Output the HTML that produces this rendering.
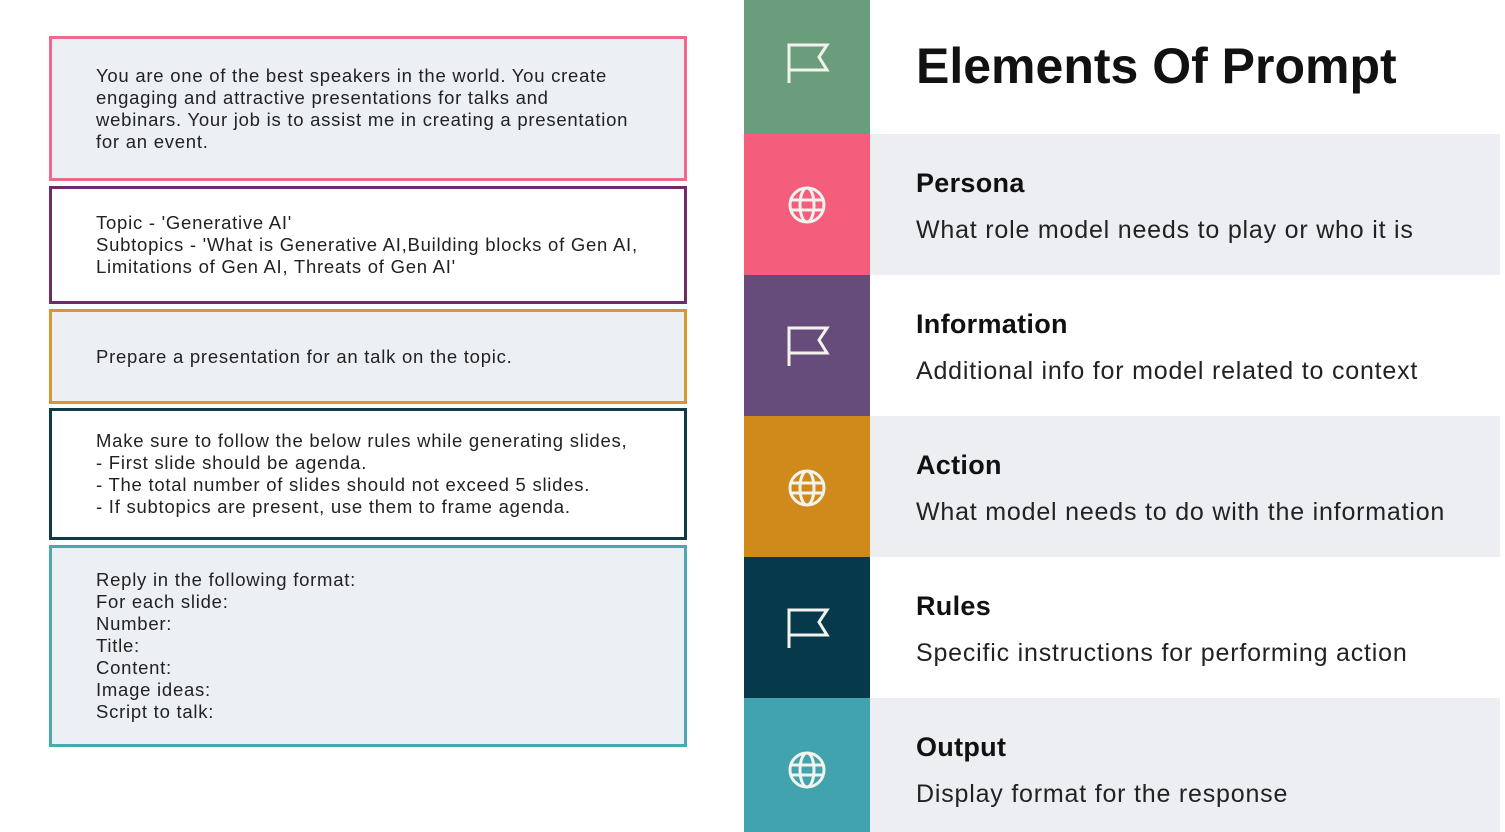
<!DOCTYPE html>
<html><head><meta charset="utf-8"><style>
body{margin:0;width:1505px;height:832px;background:#fff;position:relative;overflow:hidden;font-family:"Liberation Sans",sans-serif}
.b{position:absolute;left:49px;width:638px;border:3px solid;box-sizing:border-box;padding-left:44px;font-size:18.5px;letter-spacing:0.75px;line-height:22px;color:#222;display:flex;flex-direction:column;justify-content:center}
.s{position:absolute;left:744px;width:126px}
.r{position:absolute;left:870px;width:630px;padding-left:46px;box-sizing:border-box}
.r h2{margin:0;font-size:27px;font-weight:bold;color:#111;letter-spacing:0.3px}
.r p{margin:17px 0 0;font-size:25px;color:#222;letter-spacing:0.8px}
</style></head><body>
<div class="b" style="top:36px;height:145px;border-color:#f0688a;background:#eceff3">You are one of the best speakers in the world. You create<br>engaging and attractive presentations for talks and<br>webinars. Your job is to assist me in creating a presentation<br>for an event.</div>
<div class="b" style="top:186px;height:118px;border-color:#6b2d6b;background:#fff">Topic - 'Generative AI'<br>Subtopics - 'What is Generative AI,Building blocks of Gen AI,<br>Limitations of Gen AI, Threats of Gen AI'</div>
<div class="b" style="top:309px;height:95px;border-color:#d9962c;background:#eceff3">Prepare a presentation for an talk on the topic.</div>
<div class="b" style="top:408px;height:132px;border-color:#0f3a48;background:#fff">Make sure to follow the below rules while generating slides,<br>- First slide should be agenda.<br>- The total number of slides should not exceed 5 slides.<br>- If subtopics are present, use them to frame agenda.</div>
<div class="b" style="top:545px;height:202px;border-color:#4aa8b2;background:#eceff3">Reply in the following format:<br>For each slide:<br>Number:<br>Title:<br>Content:<br>Image ideas:<br>Script to talk:</div>

<div class="s" style="top:0;height:134px;background:#699d7b"></div>
<div class="s" style="top:134px;height:141px;background:#f45d7c"></div>
<div class="s" style="top:275px;height:141px;background:#654c7b"></div>
<div class="s" style="top:416px;height:141px;background:#cf8a1b"></div>
<div class="s" style="top:557px;height:141px;background:#063a4b"></div>
<div class="s" style="top:698px;height:134px;background:#40a3ad"></div>

<svg style="position:absolute;left:0;top:0" width="1505" height="832">
<defs>
<g id="f" fill="none" stroke="#f3f3ee" stroke-width="3"><path d="M0 38V0H38L30 12L38 25H0"/></g>
<g id="g" fill="none" stroke="#f3f3ee" stroke-width="3"><circle cx="0" cy="0" r="17"/><ellipse cx="0" cy="0" rx="7" ry="17"/><path d="M-17 -5H17M-17 5H17"/></g>
</defs>
<use href="#f" x="789" y="45"/>
<use href="#g" x="807" y="205"/>
<use href="#f" x="789" y="328"/>
<use href="#g" x="807" y="488"/>
<use href="#f" x="789" y="610"/>
<use href="#g" x="807" y="770"/>
</svg>

<div class="r" style="top:0;height:134px;background:#fff"><div style="font-size:50px;font-weight:bold;color:#111;margin-top:37px">Elements Of Prompt</div></div>
<div class="r" style="top:134px;height:141px;background:#eceef2;padding-top:34px"><h2>Persona</h2><p>What role model needs to play or who it is</p></div>
<div class="r" style="top:275px;height:141px;background:#fff;padding-top:34px"><h2>Information</h2><p>Additional info for model related to context</p></div>
<div class="r" style="top:416px;height:141px;background:#eceef2;padding-top:34px"><h2>Action</h2><p>What model needs to do with the information</p></div>
<div class="r" style="top:557px;height:141px;background:#fff;padding-top:34px"><h2>Rules</h2><p>Specific instructions for performing action</p></div>
<div class="r" style="top:698px;height:134px;background:#eceef2;padding-top:34px"><h2>Output</h2><p>Display format for the response</p></div>
</body></html>
